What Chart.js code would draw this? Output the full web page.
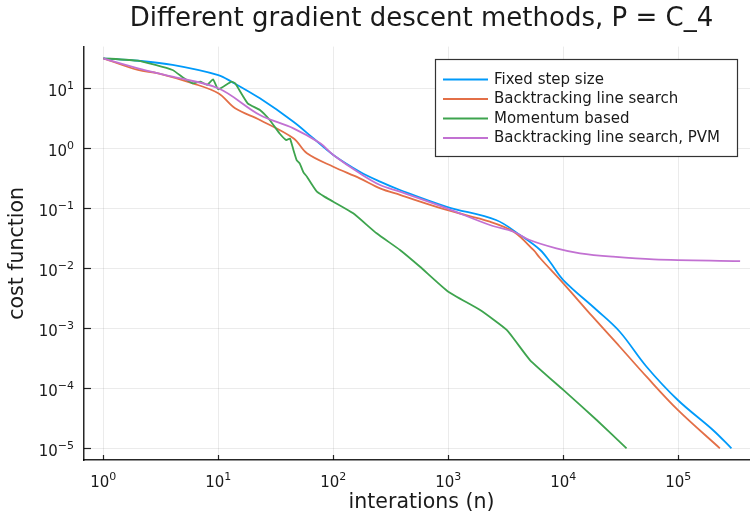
<!DOCTYPE html>
<html>
<head>
<meta charset="utf-8">
<script src="https://cdn.jsdelivr.net/npm/chart.js@4.4.1/dist/chart.umd.min.js"></script>
<style>
  html, body { margin: 0; padding: 0; background: #fff; overflow: hidden; }
  #wrap { width: 760px; height: 518px; }
</style>
</head>
<body>
<div id="wrap"><canvas id="gd_chart" width="760" height="518"></canvas></div>
<script>
// iterations (x) and cost function values (y) per method
var iterFixed = [1, 2, 4, 10, 13, 23, 45, 67, 100, 170, 255, 380, 970, 2600, 4200, 6300, 7700, 10000, 19500, 31000, 53000, 99000, 200000, 290000];
var costFixed = [31.6, 28.8, 24.5, 16.6, 12.9, 6.8, 2.77, 1.47, 0.776, 0.407, 0.278, 0.202, 0.106, 0.0638, 0.0359, 0.0202, 0.0126, 0.00638, 0.00202, 0.000877, 0.000229, 0.0000638, 0.0000202, 0.00001];

var iterBack = [1, 2, 3, 6, 10, 14, 23, 45, 59, 100, 170, 255, 380, 970, 2300, 3700, 5500, 6300, 10000, 18000, 31000, 53000, 99000, 230000];
var costBack = [31.6, 20.2, 17.8, 12.1, 8.26, 4.64, 2.96, 1.47, 0.826, 0.493, 0.316, 0.215, 0.167, 0.0938, 0.0598, 0.0407, 0.0202, 0.0147, 0.00562, 0.00156, 0.000493, 0.000156, 0.0000437, 0.00001];

var iterMom = [1, 2, 4, 5, 6, 7, 8, 9, 10, 13, 14, 18, 23, 28, 34, 39, 42, 45, 48, 51, 55, 59, 65, 72, 83, 100, 149, 238, 380, 568, 1000, 1890, 3220, 5130, 10000, 19500, 35500];
var costMom = [31.6, 28.8, 20.2, 14.8, 12.1, 12.9, 11.4, 14.1, 9.6, 12.9, 12.1, 5.62, 4.35, 2.96, 1.78, 1.37, 1.45, 0.938, 0.638, 0.562, 0.398, 0.337, 0.251, 0.189, 0.158, 0.129, 0.0826, 0.0383, 0.0202, 0.0106, 0.00407, 0.00202, 0.00094, 0.000296, 0.000094, 0.0000296, 0.00001];

var iterPVM = [1, 2, 4, 10, 23, 45, 77, 100, 170, 255, 380, 970, 2300, 3700, 5100, 8700, 14000, 27000, 61000, 345000];
var costPVM = [31.6, 21.5, 15.6, 10, 3.59, 2.15, 1.21, 0.776, 0.383, 0.244, 0.189, 0.1, 0.0527, 0.0407, 0.0296, 0.0215, 0.0178, 0.0156, 0.0141, 0.0132];

var seriesNames = ['Fixed step size', 'Backtracking line search', 'Momentum based', 'Backtracking line search, PVM'];
var seriesColors = ['#009AFA', '#E36F47', '#3EA44E', '#C271D2'];

var xTicks = [1, 10, 100, 1000, 10000, 100000];
var yTicks = [0.00001, 0.0001, 0.001, 0.01, 0.1, 1, 10];

function pairs(xs, ys) {
  var out = [];
  for (var i = 0; i < xs.length; i++) out.push({x: xs[i], y: ys[i]});
  return out;
}

function expOf(v) {
  return String(Math.round(Math.log10(v))).replace('-', '\u2212');
}

// title, inward ticks, 10^n labels and boxed legend drawn like the original
const extras = {
  id: 'extras',
  afterDraw(chart) {
    const c = chart.ctx;
    const area = chart.chartArea;
    const xs = chart.scales.x, ys = chart.scales.y;
    const big = '15px "DejaVu Sans"', small = '11px "DejaVu Sans"';
    c.save();
    c.strokeStyle = 'rgba(0,0,0,0.85)';
    c.lineWidth = 1.2;
    c.fillStyle = '#1a1a1a';
    c.textBaseline = 'alphabetic';
    c.textAlign = 'left';
    xTicks.forEach(function (t) {
      var px = xs.getPixelForValue(t);
      var rx = Math.round(px) + 0.5;
      c.beginPath(); c.moveTo(rx, area.bottom); c.lineTo(rx, area.bottom - 5); c.stroke();
      c.font = big; var w1 = c.measureText('10').width;
      c.font = small; var e = expOf(t); var w2 = c.measureText(e).width;
      var sx = px - (w1 + w2) / 2;
      c.font = big; c.fillText('10', sx, 487);
      c.font = small; c.fillText(e, sx + w1, 480);
    });
    yTicks.forEach(function (t) {
      var py = ys.getPixelForValue(t);
      var ry = Math.round(py) + 0.5;
      c.beginPath(); c.moveTo(area.left, ry); c.lineTo(area.left + 7, ry); c.stroke();
      c.font = small; var e = expOf(t); var w2 = c.measureText(e).width;
      c.font = big; var w1 = c.measureText('10').width;
      var ex = 74 - w2;
      c.fillText('10', ex - w1, py + 8);
      c.font = small; c.fillText(e, ex, py + 1);
    });

    c.font = '26px "DejaVu Sans"';
    c.textAlign = 'center';
    c.fillText('Different gradient descent methods, P = C_4', (area.left + area.right) / 2, 26);

    // legend
    var bx = 435.5, by = 59.5, bw = 302, bh = 97;
    c.fillStyle = '#fff';
    c.fillRect(bx, by, bw, bh);
    c.strokeStyle = 'rgba(0,0,0,0.8)';
    c.lineWidth = 1.2;
    c.strokeRect(bx, by, bw, bh);
    c.font = '15px "DejaVu Sans"';
    c.textAlign = 'left';
    c.textBaseline = 'middle';
    for (var i = 0; i < seriesNames.length; i++) {
      var ly = 79.5 + i * 19.5;
      c.strokeStyle = seriesColors[i];
      c.lineWidth = 1.8;
      c.beginPath(); c.moveTo(443, ly); c.lineTo(488, ly); c.stroke();
      c.fillStyle = '#1a1a1a';
      c.fillText(seriesNames[i], 494, ly + 0.5);
    }
    c.restore();
  }
};

const ctx_gd = document.getElementById('gd_chart').getContext('2d');
const myChart_gd = new Chart(ctx_gd, {
  type: 'line',
  data: {
    datasets: [
      {label: seriesNames[0], data: pairs(iterFixed, costFixed), borderColor: seriesColors[0], order: 3, tension: 0.35},
      {label: seriesNames[1], data: pairs(iterBack, costBack), borderColor: seriesColors[1], order: 2, tension: 0.35},
      {label: seriesNames[2], data: pairs(iterMom, costMom), borderColor: seriesColors[2], order: 1, tension: 0.15},
      {label: seriesNames[3], data: pairs(iterPVM, costPVM), borderColor: seriesColors[3], order: 0, tension: 0.35}
    ]
  },
  options: {
    responsive: false,
    animation: false,
    layout: { padding: { top: 46.6, right: 1, left: 0, bottom: 0 } },
    elements: {
      point: { radius: 0 },
      line: { borderWidth: 1.8, fill: false }
    },
    plugins: {
      legend: { display: false },
      title: { display: false },
      tooltip: { enabled: false }
    },
    scales: {
      x: {
        type: 'logarithmic',
        min: Math.pow(10, -0.168),
        max: Math.pow(10, 5.702),
        afterBuildTicks: function (s) { s.ticks = xTicks.map(function (v) { return {value: v}; }); },
        afterFit: function (s) { s.height = 58; },
        grid: { color: 'rgba(0,0,0,0.08)', lineWidth: 1, drawTicks: false },
        border: { color: 'rgba(0,0,0,0.85)', width: 1.5 },
        ticks: { display: false, autoSkip: false },
        title: {
          display: true, text: 'interations (n)', color: '#1a1a1a',
          font: { family: 'DejaVu Sans', size: 20.5 }, padding: { top: 0, bottom: 3 }
        }
      },
      y: {
        type: 'logarithmic',
        min: Math.pow(10, -5.195),
        max: Math.pow(10, 1.695),
        afterBuildTicks: function (s) { s.ticks = yTicks.map(function (v) { return {value: v}; }); },
        afterFit: function (s) { s.width = 84; },
        grid: { color: 'rgba(0,0,0,0.08)', lineWidth: 1, drawTicks: false },
        border: { color: 'rgba(0,0,0,0.85)', width: 1.5 },
        ticks: { display: false, autoSkip: false },
        title: {
          display: true, text: 'cost function', color: '#1a1a1a',
          font: { family: 'DejaVu Sans', size: 20.5 }, padding: { top: 5, bottom: 0 }
        }
      }
    }
  },
  plugins: [extras]
});
</script>
</body>
</html>
